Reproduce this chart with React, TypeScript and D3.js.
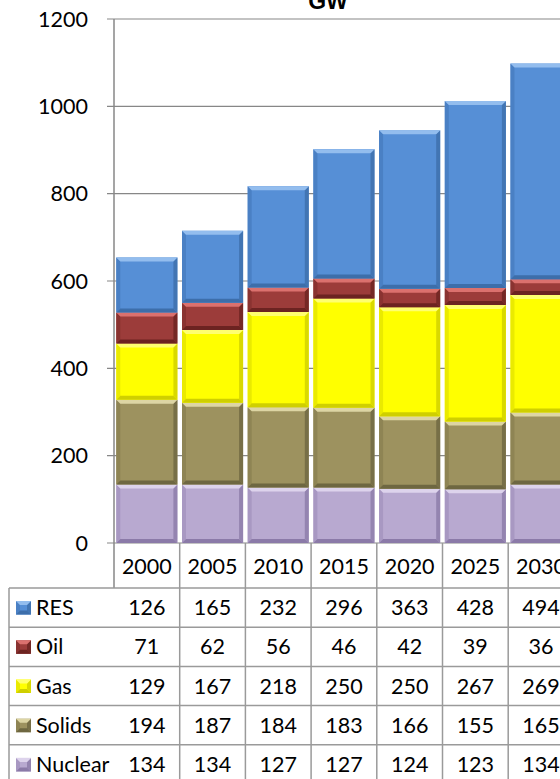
import React from "react";
import * as d3 from "d3";

const years = ["2000", "2005", "2010", "2015", "2020", "2025", "2030"];
const seriesNames = ["RES", "Oil", "Gas", "Solids", "Nuclear"];
const res = [126, 165, 232, 296, 363, 428, 494];
const oil = [71, 62, 56, 46, 42, 39, 36];
const gas = [129, 167, 218, 250, 250, 267, 269];
const solids = [194, 187, 184, 183, 166, 155, 165];
const nuclear = [134, 134, 127, 127, 124, 123, 134];
const yTicks = [0, 200, 400, 600, 800, 1000, 1200];

const colors: Record<string, { base: string; light: string; dark: string; side: string }> = {
  RES: { base: "#568FD6", light: "#93BDEE", dark: "#3D6EAA", side: "#4A80C4" },
  Oil: { base: "#9C3C3A", light: "#DB716E", dark: "#6C2321", side: "#8A3331" },
  Gas: { base: "#FFFF00", light: "#FFFF70", dark: "#CFCF00", side: "#EAEA00" },
  Solids: { base: "#9D925F", light: "#DDD5A4", dark: "#6E6741", side: "#8E8454" },
  Nuclear: { base: "#B8A9D0", light: "#DDD3EC", dark: "#8B7AA8", side: "#A898C2" },
};

const dataMap: Record<string, number[]> = { RES: res, Oil: oil, Gas: gas, Solids: solids, Nuclear: nuclear };

const W = 560;
const H = 779;
const FONT = "Lato, 'Open Sans', sans-serif";
const FS = 21.5;

function Bevel({ x0, x1, y0, y1, c }: { x0: number; x1: number; y0: number; y1: number; c: any }) {
  const h = y1 - y0;
  const b = Math.min(4, h / 3);
  const pts = (a: number[][]) => a.map((p) => p.join(",")).join(" ");
  return (
    <g>
      <rect x={x0} y={y0} width={x1 - x0} height={h} fill={c.base} />
      <polygon points={pts([[x0, y0], [x0 + b, y0 + b], [x0 + b, y1 - b], [x0, y1]])} fill={c.side} />
      <polygon points={pts([[x1, y0], [x1 - b, y0 + b], [x1 - b, y1 - b], [x1, y1]])} fill={c.dark} opacity={0.8} />
      <polygon points={pts([[x0, y0], [x1, y0], [x1 - b, y0 + b], [x0 + b, y0 + b]])} fill={c.light} />
      <polygon points={pts([[x0, y1], [x1, y1], [x1 - b, y1 - b], [x0 + b, y1 - b]])} fill={c.dark} />
    </g>
  );
}

export default function App() {
  const plotLeft = 114;
  const step = 65.7;
  const plotRight = plotLeft + step * years.length;
  const y = d3.scaleLinear().domain([0, 1200]).range([543, 19]);
  const xCol = d3.scaleBand<string>().domain(years).range([plotLeft, plotRight]).padding(0);
  const xBar = d3.scaleBand<string>().domain(years).range([plotLeft, plotRight]).paddingInner(0.07).paddingOuter(0.035);

  const rows = years.map((yr, i) => {
    const o: any = { year: yr };
    seriesNames.forEach((s) => (o[s] = dataMap[s][i]));
    return o;
  });
  const stackOrder = ["Nuclear", "Solids", "Gas", "Oil", "RES"];
  const stacked = d3.stack<any>().keys(stackOrder)(rows);

  const headerTop = 543;
  const headerBottom = 588;
  const rowH = 39.2;
  const legendLeft = 9;

  return (
    <svg width={W} height={H} style={{ position: "absolute", left: 0, top: 0, background: "#fff" }} fontFamily={FONT}>
      <rect x={0} y={0} width={W} height={H} fill="#fff" />
      <text x={328} y={9} textAnchor="middle" fontFamily="'Liberation Sans', Arial, sans-serif" fontWeight="bold" fontSize={23} fill="#000">GW</text>
      {yTicks.map((t) => (
        <g key={t}>
          <line x1={107} x2={W} y1={y(t)} y2={y(t)} stroke="#878787" strokeWidth={1.2} />
          <text x={88} y={y(t)} dy="0.35em" textAnchor="end" fontSize={FS} fill="#000">{t}</text>
        </g>
      ))}
      <line x1={plotLeft} x2={plotLeft} y1={y(1200)} y2={headerBottom} stroke="#878787" strokeWidth={1.5} />
      {stacked.map((layer) => (
        <g key={layer.key}>
          {layer.map((d: any, i: number) => (
            <Bevel
              key={i}
              x0={xBar(years[i])!}
              x1={xBar(years[i])! + xBar.bandwidth()}
              y0={y(d[1])}
              y1={y(d[0])}
              c={colors[layer.key]}
            />
          ))}
        </g>
      ))}
      <g>
        {years.map((yr) => (
          <text key={yr} x={xCol(yr)! + xCol.bandwidth() / 2} y={(headerTop + headerBottom) / 2 + 1} dy="0.35em" textAnchor="middle" fontSize={FS} fill="#000">{yr}</text>
        ))}
        {years.map((yr) => (
          <line key={"hv" + yr} x1={xCol(yr)! + xCol.bandwidth()} x2={xCol(yr)! + xCol.bandwidth()} y1={headerTop} y2={H} stroke="#9A9A9A" strokeWidth={1.5} />
        ))}
        <line x1={legendLeft} x2={legendLeft} y1={headerBottom} y2={H} stroke="#9A9A9A" strokeWidth={1.5} />
        {seriesNames.map((s, r) => {
          const top = headerBottom + r * rowH;
          const cy = top + rowH / 2;
          return (
            <g key={s}>
              <line x1={legendLeft} x2={plotRight} y1={top} y2={top} stroke="#9A9A9A" strokeWidth={1.5} />
              <Bevel x0={16} x1={31} y0={cy - 6.5} y1={cy + 7} c={colors[s]} />
              <text x={36} y={cy} dy="0.35em" fontSize={FS} fill="#000">{s}</text>
              {years.map((yr, i) => (
                <text key={yr} x={xCol(yr)! + xCol.bandwidth() / 2} y={cy} dy="0.35em" textAnchor="middle" fontSize={FS} fill="#000">{dataMap[s][i]}</text>
              ))}
            </g>
          );
        })}
      </g>
    </svg>
  );
}
